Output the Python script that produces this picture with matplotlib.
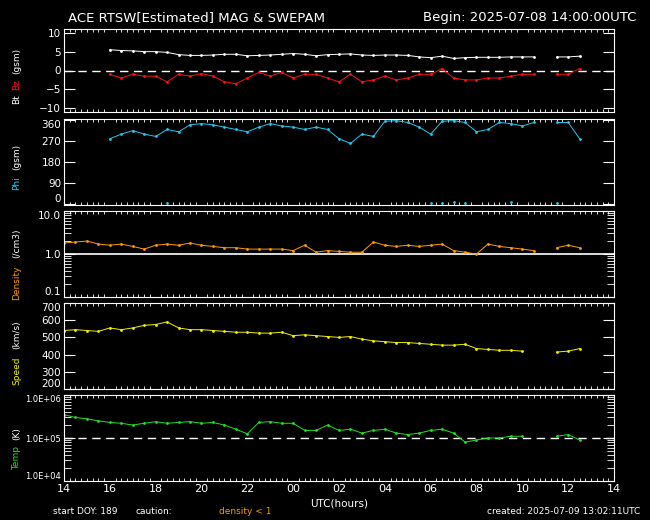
import numpy as np
import matplotlib
matplotlib.use("Agg")
import matplotlib.pyplot as plt
from matplotlib.ticker import FixedLocator, NullFormatter, LogLocator

nan = np.nan
# half-hour grid, hours since 00 UTC 2025-07-08 (14 .. 36.5)
hours = [14.0 + 0.5 * i for i in range(46)]
x_ticks = [14, 16, 18, 20, 22, 24, 26, 28, 30, 32, 34, 36, 38]
x_labels = ["14", "16", "18", "20", "22", "00", "02", "04", "06", "08", "10", "12", "14"]

bt = [nan, nan, nan, nan, 5.5, 5.3, 5.2, 5.0, 5.0, 4.8, 4.2, 4.0, 4.0, 4.1, 4.3, 4.3,
      3.9, 4.0, 4.1, 4.3, 4.5, 4.3, 3.9, 4.2, 4.3, 4.4, 4.1, 4.0, 4.1, 4.1, 4.0, 3.6,
      3.4, 3.8, 3.2, 3.4, 3.5, 3.5, 3.5, 3.6, 3.6, 3.6, nan, 3.6, 3.6, 3.8]
bz = [nan, nan, nan, nan, -1.0, -2.0, -1.0, -1.5, -1.5, -3.0, -1.0, -1.5, -0.8, -1.5, -3.0, -3.5,
      -2.0, -0.5, -1.5, -0.5, -2.0, -1.0, -1.0, -2.0, -3.0, -1.0, -3.0, -2.5, -1.5, -2.5, -2.0, -1.0,
      -1.0, 0.5, -2.0, -2.5, -2.5, -2.0, -2.0, -1.5, -1.0, -1.0, nan, -1.0, -1.0, 0.5]
phi = [nan, nan, nan, nan, 280, 300, 315, 300, 290, 320, 310, 340, 345, 340, 330, 320,
       310, 330, 345, 335, 330, 320, 330, 320, 280, 260, 300, 290, 355, 358, 350, 330,
       300, 355, 358, 350, 310, 320, 350, 345, 335, 350, nan, 350, 350, 280]
phi_low_t = [18.5, 30.0, 30.5, 31.0, 31.5, 33.5, 35.5]
phi_low = [3, 5, 3, 8, 2, 10, 3]
density = [1.8, 1.9, 2.0, 1.7, 1.6, 1.7, 1.5, 1.3, 1.6, 1.7, 1.6, 1.8, 1.6, 1.5, 1.4, 1.4,
           1.3, 1.3, 1.3, 1.3, 1.2, 1.6, 1.1, 1.2, 1.15, 1.1, 1.1, 1.9, 1.6, 1.5, 1.6, 1.5,
           1.6, 1.7, 1.2, 1.1, 1.0, 1.7, 1.5, 1.4, 1.3, 1.2, nan, 1.4, 1.6, 1.4]
speed = [540, 545, 540, 535, 555, 545, 555, 570, 575, 590, 555, 545, 545, 540, 535, 530,
         530, 525, 525, 530, 510, 515, 510, 505, 500, 505, 490, 480, 475, 470, 470, 465,
         460, 455, 455, 460, 435, 430, 425, 425, 420, nan, nan, 415, 420, 435]
temp = [3.5e5, 3.0e5, 2.8e5, 2.5e5, 2.3e5, 2.2e5, 2.0e5, 2.2e5, 2.4e5, 2.2e5, 2.3e5, 2.4e5, 2.2e5, 2.3e5, 2.0e5, 1.6e5,
        1.25e5, 2.3e5, 2.4e5, 2.2e5, 2.2e5, 1.5e5, 1.5e5, 2.0e5, 1.5e5, 1.6e5, 1.3e5, 1.5e5, 1.6e5, 1.3e5, 1.2e5, 1.3e5,
        1.5e5, 1.6e5, 1.3e5, 0.8e5, 0.9e5, 1.0e5, 1.0e5, 1.1e5, 1.1e5, nan, nan, 1.1e5, 1.2e5, 0.9e5]

W, H = 650, 520
fig = plt.figure(figsize=(6.5, 5.2), dpi=100, facecolor="black")
FS = 7.5

def mkax(top, bot):
    ax = fig.add_axes([64 / W, 1 - bot / H, 550 / W, (bot - top) / H], facecolor="black")
    for s in ax.spines.values():
        s.set_color("white")
    ax.set_xlim(14, 38)
    ax.xaxis.set_major_locator(FixedLocator(x_ticks))
    ax.xaxis.set_minor_locator(FixedLocator([14 + i * 0.25 for i in range(97)]))
    ax.tick_params(axis="both", which="both", colors="white", direction="in",
                   top=True, right=True, labelsize=FS)
    ax.tick_params(axis="x", which="major", length=0)
    ax.tick_params(axis="x", which="minor", length=2)
    ax.tick_params(axis="y", which="major", length=8, pad=2)
    ax.tick_params(axis="y", which="minor", length=5)
    ax.xaxis.set_major_formatter(NullFormatter())
    return ax

def edge_labels(ax):
    labs = ax.get_yticklabels()
    labs[0].set_verticalalignment("bottom")
    labs[-1].set_verticalalignment("top")

def series(ax, y, c, t=hours):
    ax.plot(t, y, color=c, lw=0.7)
    ax.plot(t, y, ".", color=c, ms=2)

ax1 = mkax(29, 112)
ax1.set_ylim(-11, 11)
ax1.set_yticks([-10, -5, 0, 5, 10])
ax1.axhline(0, color="white", ls=(0, (6, 4)), lw=1)
series(ax1, bt, "white")
series(ax1, bz, "#ff1010")

ax2 = mkax(119, 205)
ax2.set_ylim(-5, 365)
ax2.set_yticks([0, 90, 180, 270, 360])
series(ax2, phi, "#20c8f0")
ax2.plot(phi_low_t, phi_low, ".", color="#20c8f0", ms=2)
edge_labels(ax2)

ax3 = mkax(211, 297)
ax3.set_yscale("log")
ax3.set_ylim(0.1, 10)
ax3.set_yticks([0.1, 1, 10])
ax3.set_yticklabels(["0.1", "1.0", "10.0"])
ax3.yaxis.set_minor_locator(LogLocator(subs=range(2, 10)))
ax3.yaxis.set_minor_formatter(NullFormatter())
ax3.axhline(1, color="white", lw=1.2)
series(ax3, density, "#ff9900")
edge_labels(ax3)

ax4 = mkax(303, 389)
ax4.set_ylim(200, 700)
ax4.set_yticks([200, 300, 400, 500, 600, 700])
series(ax4, speed, "#f0f000")
edge_labels(ax4)

ax5 = mkax(395, 481)
ax5.set_yscale("log")
ax5.set_ylim(1e4, 1e6)
ax5.set_yticks([1e4, 1e5, 1e6])
ax5.set_yticklabels(["1.0E+04", "1.0E+05", "1.0E+06"], fontsize=6)
ax5.yaxis.set_minor_locator(LogLocator(subs=range(2, 10)))
ax5.yaxis.set_minor_formatter(NullFormatter())
ax5.axhline(1e5, color="white", ls=(0, (6, 4)), lw=1)
series(ax5, temp, "#20e020")
ax5.xaxis.set_major_formatter(matplotlib.ticker.FixedFormatter(x_labels))
ax5.tick_params(axis="x", which="major", pad=2, labelsize=8)
edge_labels(ax5)

fig.text(68 / W, 1 - 18 / H, "ACE RTSW[Estimated] MAG & SWEPAM", color="white", fontsize=9.5, va="center")
fig.text(636 / W, 1 - 18 / H, "Begin: 2025-07-08 14:00:00UTC", color="white", fontsize=9.5, va="center", ha="right")

def vlab(parts, x, ybot):
    y = ybot
    for txt, c, h in parts:
        fig.text(x / W, 1 - y / H, txt, color=c, fontsize=6.5, rotation=90, ha="center", va="bottom")
        y -= h

vlab([("Bt", "white", 14), ("Bz", "#ff1010", 16), ("(gsm)", "white", 0)], 17, 104)
vlab([("Phi", "#20c8f0", 20), ("(gsm)", "white", 0)], 17, 190)
vlab([("Density", "#ff9900", 42), ("(/cm3)", "white", 0)], 17, 300)
vlab([("Speed", "#f0f000", 36), ("(km/s)", "white", 0)], 17, 385)
vlab([("Temp", "#20e020", 30), ("(K)", "white", 0)], 17, 470)

fig.text(339 / W, 1 - 503 / H, "UTC(hours)", color="white", fontsize=7.5, ha="center", va="center")
fig.text(53 / W, 1 - 512 / H, "start DOY: 189", color="white", fontsize=6.5, va="center")
fig.text(136 / W, 1 - 512 / H, "caution:", color="white", fontsize=6.5, va="center")
fig.text(219 / W, 1 - 512 / H, "density < 1", color="#ff9900", fontsize=6.5, va="center")
fig.text(640 / W, 1 - 512 / H, "created: 2025-07-09 13:02:11UTC", color="white", fontsize=6.5, va="center", ha="right")

fig.savefig("out.png", dpi=100, facecolor="black")
